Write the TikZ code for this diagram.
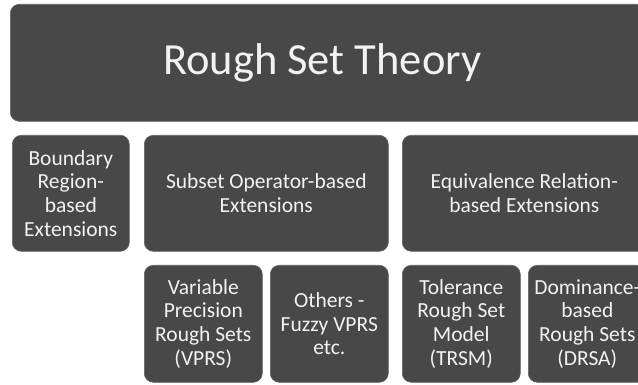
\documentclass[tikz,border=0pt]{standalone}
\usepackage{fontspec}
\setmainfont{Carlito}
\definecolor{boxgray}{HTML}{484848}
\definecolor{txtw}{HTML}{F2F2F2}
\tikzset{
  rsbox/.style={fill=boxgray, draw=boxgray!85!white, line width=0.6pt, rounded corners=9pt,
    text=txtw, align=center, inner sep=0pt, anchor=north west,
    font=\fontsize{21.5}{23.6}\selectfont},
}
\begin{document}
\begin{tikzpicture}[x=1pt,y=-1pt]
\clip (0,0) rectangle (638,385);
\fill[white] (0,0) rectangle (638,385);
\node[rsbox, minimum width=636pt, minimum height=117pt, font=\fontsize{44.5}{52}\selectfont] (rst) at (10,4) {Rough Set Theory\hspace*{12pt}};
\node[rsbox, minimum width=117pt, minimum height=116pt] (brb) at (12,135) {Boundary\\Region-\\based\\Extensions};
\node[rsbox, minimum width=244pt, minimum height=116pt] (sob) at (144,135) {Subset Operator-based\\Extensions};
\node[rsbox, minimum width=244pt, minimum height=116pt] (erb) at (402,135) {Equivalence Relation-\\based Extensions};
\node[rsbox, minimum width=118pt, minimum height=117pt] (vprs) at (144,265) {Variable\\Precision\\Rough Sets\\(VPRS)};
\node[rsbox, minimum width=118pt, minimum height=117pt] (oth) at (270,265) {Others -\\Fuzzy VPRS\\etc.};
\node[rsbox, minimum width=118pt, minimum height=117pt] (trsm) at (402,265) {Tolerance\\Rough Set\\Model\\(TRSM)};
\node[rsbox, minimum width=118pt, minimum height=117pt] (drsa) at (528,265) {Dominance-\\based\\Rough Sets\\(DRSA)};
\end{tikzpicture}
\end{document}
